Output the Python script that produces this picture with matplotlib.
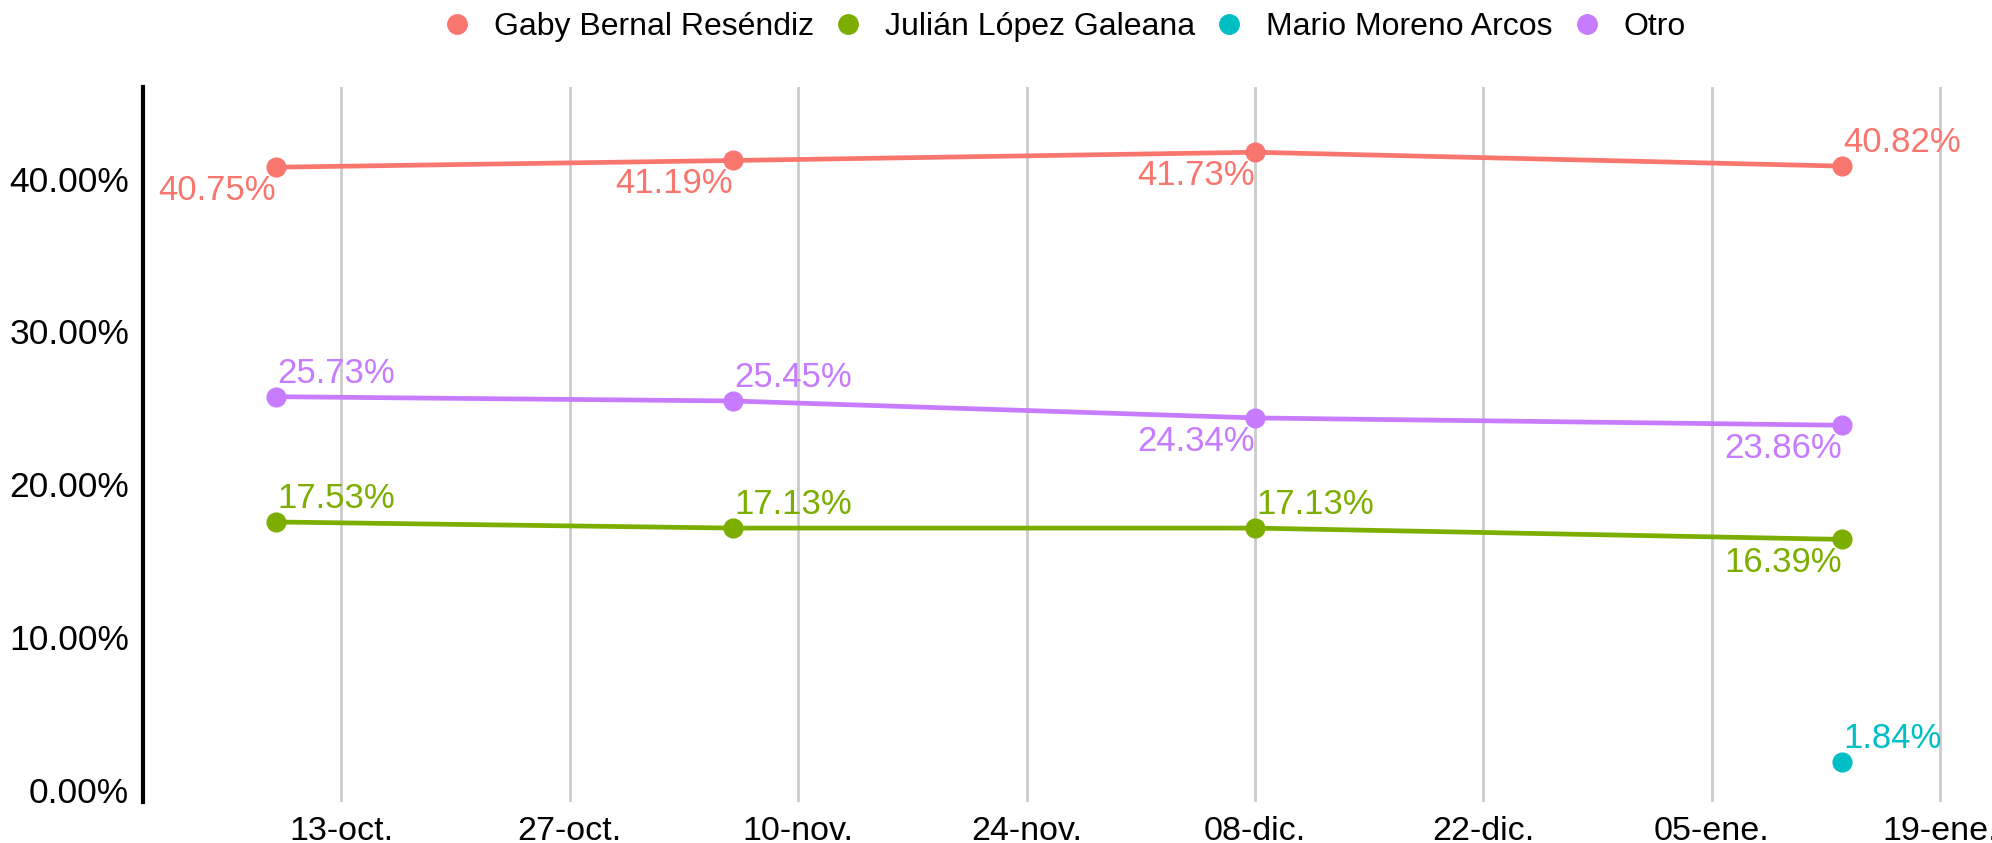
import matplotlib

matplotlib.use("Agg")

import matplotlib.pyplot as plt
import numpy as np
from datetime import datetime
from matplotlib.lines import Line2D

plt.rcParams["font.family"] = ["Liberation Sans", "DejaVu Sans"]

# data
fechas = ["2023-10-09", "2023-11-06", "2023-12-08", "2024-01-13"]
gaby = [40.75, 41.19, 41.73, 40.82]
julian = [17.53, 17.13, 17.13, 16.39]
mario = [np.nan, np.nan, np.nan, 1.84]
otro = [25.73, 25.45, 24.34, 23.86]

candidatos = ["Gaby Bernal Reséndiz", "Julián López Galeana", "Mario Moreno Arcos", "Otro"]
colores = ["#F8766D", "#7CAE00", "#00BFC4", "#C77CFF"]

tick_fechas = ["2023-10-13", "2023-10-27", "2023-11-10", "2023-11-24",
               "2023-12-08", "2023-12-22", "2024-01-05", "2024-01-19"]
tick_labels = ["13-oct.", "27-oct.", "10-nov.", "24-nov.",
               "08-dic.", "22-dic.", "05-ene.", "19-ene."]
y_ticks = [0, 10, 20, 30, 40]

# label placement: "a" = above-right, "b" = below-left
pos = [
    ["b", "b", "b", "a"],
    ["a", "a", "a", "b"],
    ["a", "a", "a", "a"],
    ["a", "a", "b", "b"],
]

x = [datetime.strptime(f, "%Y-%m-%d") for f in fechas]
xt = [datetime.strptime(f, "%Y-%m-%d") for f in tick_fechas]
series = [gaby, julian, mario, otro]

fig = plt.figure(figsize=(19.92, 8.43), dpi=100)
ax = fig.add_axes([0.0718, 0.0486, 0.978 - 0.0718, 0.8968 - 0.0486])

for xv in xt:
    ax.axvline(xv, color="#cccccc", lw=2, zorder=0)

for vals, col, ps in zip(series, colores, pos):
    ax.plot(x, vals, color=col, lw=3.4, zorder=2)
    ax.plot(x, vals, "o", color=col, ms=13.5, zorder=3)
    for xi, v, p in zip(x, vals, ps):
        if np.isnan(v):
            continue
        if p == "a":
            ax.annotate(f"{v:.2f}%", (xi, v), xytext=(1, 5), textcoords="offset points",
                        ha="left", va="bottom", color=col, fontsize=25)
        else:
            ax.annotate(f"{v:.2f}%", (xi, v), xytext=(0, -5), textcoords="offset points",
                        ha="right", va="top", color=col, fontsize=25)

ax.set_xlim(datetime(2023, 9, 30, 20), datetime(2024, 1, 19, 12))
ax.set_ylim(-0.8, 46)
ax.set_xticks(xt)
ax.set_xticklabels(tick_labels)
ax.set_yticks(y_ticks)
ax.set_yticklabels([f"{t:.2f}%" for t in y_ticks])
ax.tick_params(axis="y", length=0, labelsize=25.5, pad=10)
ax.tick_params(axis="x", length=0, labelsize=24.5, pad=10)

for s in ["top", "right", "bottom"]:
    ax.spines[s].set_visible(False)
ax.spines["left"].set_linewidth(3)
ax.spines["left"].set_color("black")

handles = [Line2D([], [], marker="o", ls="none", color=c, ms=14) for c in colores]
fig.legend(handles, candidatos, loc="center", bbox_to_anchor=(0.534, 0.968), ncol=4,
           frameon=False, fontsize=23, handlelength=1.0, handletextpad=0.66,
           columnspacing=0.56)

fig.savefig("out.png", dpi=100)
plt.close(fig)
